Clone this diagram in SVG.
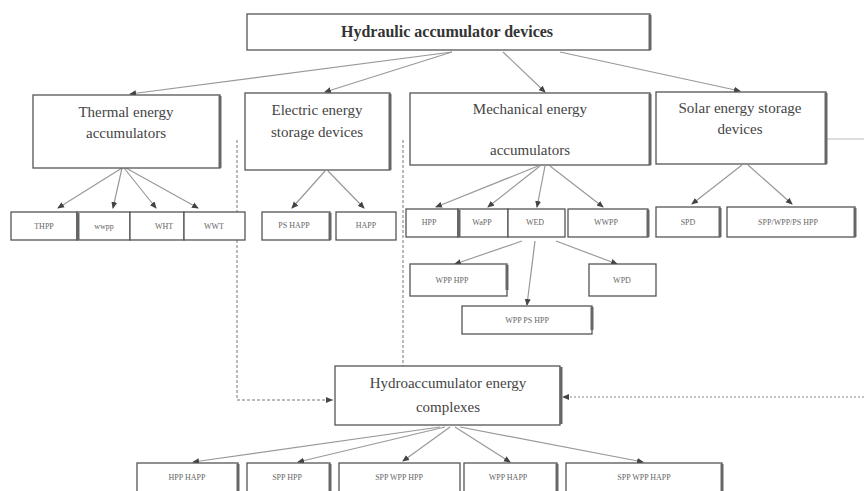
<svg xmlns="http://www.w3.org/2000/svg" width="864" height="491" viewBox="0 0 864 491">
  <style>
    .box { fill: #ffffff; stroke: #555555; stroke-width: 1.3; }
    .edge { stroke: #666666; stroke-width: 3; }
    .t { font-family: "Liberation Serif", "Times New Roman", serif; fill: #444444; text-anchor: middle; }
    .big { font-size: 15px; }
    .title { font-size: 16px; font-weight: bold; fill: #333333; }
    .small { font-size: 8px; fill: #666666; }
    .link { stroke: #999999; stroke-width: 1.2; fill: none; marker-end: url(#arrow); }
    .dash { stroke: #777777; stroke-width: 1; fill: none; stroke-dasharray: 3 2; }
    .dot { stroke: #888888; stroke-width: 1; fill: none; stroke-dasharray: 2 2; }
  </style>
  <defs>
    <marker id="arrow" markerWidth="7" markerHeight="7" refX="6" refY="3.5" orient="auto" markerUnits="userSpaceOnUse">
      <path d="M0,0.5 L7,3.5 L0,6.5 z" fill="#444444"/>
    </marker>
  </defs>
  <rect width="864" height="491" fill="#ffffff"/>

  <!-- connectors -->
  <g id="connectors">
    <line class="link" x1="452" y1="52" x2="130" y2="94"/>
    <line class="link" x1="452" y1="52" x2="325" y2="92"/>
    <line class="link" x1="503" y1="52" x2="545" y2="92"/>
    <line class="link" x1="560" y1="52" x2="740" y2="91"/>

    <line class="link" x1="122" y1="168" x2="58" y2="208"/>
    <line class="link" x1="122" y1="168" x2="113" y2="208"/>
    <line class="link" x1="124" y1="168" x2="156" y2="208"/>
    <line class="link" x1="126" y1="168" x2="198" y2="208"/>

    <line class="link" x1="325" y1="171" x2="292" y2="208"/>
    <line class="link" x1="328" y1="171" x2="364" y2="208"/>

    <line class="link" x1="538" y1="166" x2="436" y2="207"/>
    <line class="link" x1="540" y1="166" x2="488" y2="207"/>
    <line class="link" x1="545" y1="166" x2="537" y2="207"/>
    <line class="link" x1="550" y1="166" x2="603" y2="207"/>

    <line class="link" x1="742" y1="165" x2="692" y2="204"/>
    <line class="link" x1="748" y1="165" x2="792" y2="204"/>

    <line class="link" x1="522" y1="241" x2="455" y2="264"/>
    <line class="link" x1="535" y1="241" x2="527" y2="305"/>
    <line class="link" x1="556" y1="241" x2="617" y2="264"/>

    <line x1="826" y1="139" x2="864" y2="139" stroke="#bbbbbb" stroke-width="1"/>

    <polyline class="dash" points="237,140 237,400 333,400"/>
    <polyline class="dash" points="403,140 403,366"/>
    <path d="M333,400 l-7,-3 v6 z" fill="#444444"/>
    <line class="dot" x1="566" y1="397" x2="864" y2="397"/>
    <path d="M562,397 l7,-3 v6 z" fill="#444444"/>

    <line class="link" x1="440" y1="427" x2="193" y2="462"/>
    <line class="link" x1="445" y1="427" x2="298" y2="462"/>
    <line class="link" x1="450" y1="427" x2="403" y2="461"/>
    <line class="link" x1="455" y1="427" x2="510" y2="462"/>
    <line class="link" x1="460" y1="427" x2="643" y2="462"/>
  </g>

  <!-- top level -->
  <g id="hydraulic-accumulator-devices">
    <rect class="box" x="247" y="14" width="403" height="36"/>
    <line class="edge" x1="650" y1="15" x2="650" y2="50"/>
    <text class="t title" x="447" y="37">Hydraulic accumulator devices</text>
  </g>

  <!-- second level -->
  <g id="thermal">
    <rect class="box" x="33" y="95" width="187" height="73"/>
    <line class="edge" x1="220" y1="96" x2="220" y2="168"/>
    <text class="t big" x="126" y="117">Thermal energy</text>
    <text class="t big" x="126" y="138">accumulators</text>
  </g>
  <g id="electric">
    <rect class="box" x="245" y="93" width="145" height="77"/>
    <line class="edge" x1="390" y1="94" x2="390" y2="170"/>
    <text class="t big" x="317" y="115">Electric energy</text>
    <text class="t big" x="317" y="137">storage devices</text>
  </g>
  <g id="mechanical">
    <rect class="box" x="410" y="93" width="240" height="72"/>
    <line class="edge" x1="650" y1="94" x2="650" y2="165"/>
    <text class="t big" x="530" y="114">Mechanical energy</text>
    <text class="t big" x="530" y="155">accumulators</text>
  </g>
  <g id="solar">
    <rect class="box" x="656" y="92" width="170" height="72"/>
    <line class="edge" x1="826" y1="93" x2="826" y2="164"/>
    <text class="t big" x="740" y="113">Solar energy storage</text>
    <text class="t big" x="740" y="134">devices</text>
  </g>

  <!-- third level -->
  <g id="thpp"><rect class="box" x="11" y="212" width="66" height="28"/><text class="t small" x="44" y="229">THPP</text></g>
  <g id="wwpp"><rect class="box" x="77" y="212" width="53" height="28"/><line class="edge" x1="78" y1="213" x2="78" y2="240"/><text class="t small" x="104" y="229">wwpp</text></g>
  <g id="wht"><rect class="box" x="130" y="212" width="54" height="28"/><text class="t small" x="164" y="229">WHT</text></g>
  <g id="wwt"><rect class="box" x="184" y="212" width="61" height="28"/><text class="t small" x="214" y="229">WWT</text></g>

  <g id="ps-happ"><rect class="box" x="262" y="212" width="68" height="28"/><line class="edge" x1="330" y1="213" x2="330" y2="240"/><text class="t small" x="294" y="228">PS HAPP</text></g>
  <g id="happ"><rect class="box" x="336" y="212" width="60" height="28"/><text class="t small" x="366" y="228">HAPP</text></g>

  <g id="hpp"><rect class="box" x="406" y="209" width="52" height="28"/><text class="t small" x="429" y="225">HPP</text></g>
  <g id="wapp"><rect class="box" x="458" y="209" width="50" height="28"/><line class="edge" x1="459" y1="210" x2="459" y2="237"/><text class="t small" x="482" y="225">WaPP</text></g>
  <g id="wed"><rect class="box" x="508" y="209" width="57" height="28"/><text class="t small" x="535" y="225">WED</text></g>
  <g id="wwpp-m"><rect class="box" x="568" y="209" width="80" height="28"/><line class="edge" x1="648" y1="210" x2="648" y2="237"/><text class="t small" x="606" y="225">WWPP</text></g>

  <g id="spd"><rect class="box" x="656" y="207" width="64" height="30"/><line class="edge" x1="720" y1="208" x2="720" y2="237"/><text class="t small" x="688" y="225">SPD</text></g>
  <g id="spp-wpp-ps-hpp"><rect class="box" x="727" y="207" width="128" height="30"/><line class="edge" x1="855" y1="208" x2="855" y2="237"/><text class="t small" x="788" y="225">SPP/WPP/PS HPP</text></g>

  <!-- fourth level -->
  <g id="wpp-hpp"><rect class="box" x="410" y="264" width="97" height="32"/><line class="edge" x1="507" y1="265" x2="507" y2="290"/><text class="t small" x="452" y="283">WPP HPP</text></g>
  <g id="wpd"><rect class="box" x="589" y="264" width="67" height="32"/><text class="t small" x="622" y="283">WPD</text></g>
  <g id="wpp-ps-hpp"><rect class="box" x="462" y="306" width="130" height="28"/><line class="edge" x1="592" y1="307" x2="592" y2="330"/><text class="t small" x="527" y="323">WPP PS HPP</text></g>

  <!-- complexes -->
  <g id="hydroaccumulator-complexes">
    <rect class="box" x="335" y="366" width="225" height="59"/>
    <line class="edge" x1="561" y1="367" x2="561" y2="424"/>
    <text class="t big" x="448" y="388">Hydroaccumulator energy</text>
    <text class="t big" x="448" y="412">complexes</text>
  </g>

  <g id="hpp-happ"><rect class="box" x="137" y="463" width="101" height="30"/><line class="edge" x1="238" y1="464" x2="238" y2="491"/><text class="t small" x="187" y="480">HPP HAPP</text></g>
  <g id="spp-hpp"><rect class="box" x="247" y="463" width="83" height="30"/><line class="edge" x1="330" y1="464" x2="330" y2="491"/><text class="t small" x="287" y="480">SPP HPP</text></g>
  <g id="spp-wpp-hpp"><rect class="box" x="339" y="463" width="121" height="30"/><text class="t small" x="399" y="480">SPP WPP HPP</text></g>
  <g id="wpp-happ"><rect class="box" x="464" y="463" width="93" height="30"/><line class="edge" x1="557" y1="464" x2="557" y2="491"/><text class="t small" x="508" y="480">WPP HAPP</text></g>
  <g id="spp-wpp-happ"><rect class="box" x="566" y="463" width="156" height="30"/><line class="edge" x1="722" y1="464" x2="722" y2="491"/><text class="t small" x="644" y="480">SPP WPP HAPP</text></g>
</svg>
